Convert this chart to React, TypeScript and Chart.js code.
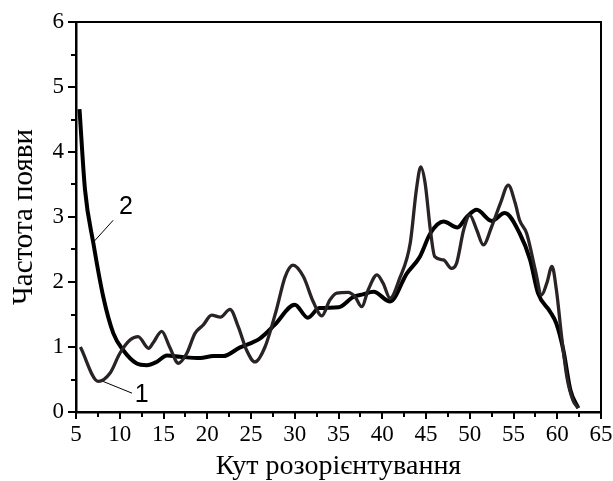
import React, { useEffect, useRef } from "react";
import { Chart, registerables } from "chart.js";

Chart.register(...registerables);

const curve1X = [5.5, 7.55, 8.9, 10.0, 11.2, 12.1, 13.3, 13.8, 14.8, 15.7, 16.7, 17.65, 18.6, 19.55, 20.5, 21.5, 22.6, 23.55, 24.5, 25.45, 26.6, 27.9, 28.9, 29.8, 31.0, 32.1, 33.1, 34.0, 34.8, 36.1, 36.9, 37.65, 38.4, 39.4, 40.1, 40.9, 42.0, 43.2, 43.9, 44.4, 44.9, 45.5, 46.0, 47.0, 47.9, 48.5, 49.3, 50.0, 50.8, 51.55, 52.5, 53.5, 54.4, 55.2, 55.7, 56.5, 57.5, 58.2, 58.8, 59.4, 59.9, 60.5, 61.1, 61.8, 62.4];
const curve1Y = [1.0, 0.47, 0.6, 0.9, 1.11, 1.16, 0.98, 1.06, 1.24, 1.0, 0.75, 0.9, 1.21, 1.34, 1.49, 1.46, 1.58, 1.31, 0.95, 0.77, 1.0, 1.57, 2.08, 2.26, 2.08, 1.7, 1.48, 1.72, 1.83, 1.84, 1.77, 1.62, 1.88, 2.11, 1.98, 1.75, 2.06, 2.6, 3.42, 3.77, 3.52, 2.8, 2.39, 2.34, 2.21, 2.29, 2.8, 3.03, 2.8, 2.57, 2.85, 3.21, 3.49, 3.21, 2.95, 2.75, 2.18, 1.8, 1.98, 2.24, 1.88, 1.16, 0.54, 0.18, 0.06];

const curve2X = [5.4, 6.03, 6.98, 8.12, 9.27, 10.4, 11.9, 13.1, 14.2, 15.4, 16.9, 19.2, 20.7, 21.8, 23.7, 26.0, 27.7, 30.0, 31.5, 32.8, 35.0, 36.7, 37.8, 39.0, 40.9, 42.8, 44.3, 45.5, 47.0, 48.6, 49.65, 50.8, 52.5, 54.0, 55.7, 56.9, 57.8, 59.2, 59.9, 60.7, 61.5, 62.4];
const curve2Y = [4.66, 3.42, 2.6, 1.77, 1.21, 0.95, 0.75, 0.72, 0.77, 0.87, 0.85, 0.83, 0.86, 0.86, 0.99, 1.13, 1.34, 1.65, 1.45, 1.6, 1.61, 1.77, 1.81, 1.85, 1.70, 2.13, 2.39, 2.75, 2.93, 2.84, 3.0, 3.11, 2.94, 3.06, 2.75, 2.34, 1.83, 1.54, 1.36, 0.95, 0.34, 0.06];

const xTitle = "Кут розорієнтування";
const yTitle = "Частота появи";

// annotation labels: [text, labelX, labelY, lineFromX, lineFromY, lineToX, lineToY]
const annotations: [string, number, number, number, number, number, number][] = [
  ["2", 10.7, 3.15, 6.9, 2.6, 9.25, 2.95],
  ["1", 12.5, 0.26, 8.1, 0.47, 11.4, 0.29],
];

const serif = "'Liberation Serif', 'Times New Roman', serif";

const framePlugin = {
  id: "frame",
  afterDraw(chart: any) {
    const { ctx, chartArea: a, scales } = chart;
    const xs = scales.x;
    const ys = scales.y;
    ctx.save();
    ctx.strokeStyle = "#000";
    ctx.lineWidth = 2;
    ctx.beginPath();
    ctx.moveTo(a.left, a.top);
    ctx.lineTo(a.right, a.top);
    ctx.lineTo(a.right, a.bottom);
    ctx.stroke();
    for (let v = 5; v <= 65.001; v += 2.5) {
      const major = Math.abs(v / 5 - Math.round(v / 5)) < 1e-6;
      const px = Math.round(xs.getPixelForValue(v));
      ctx.beginPath();
      ctx.moveTo(px, a.bottom);
      ctx.lineTo(px, a.bottom + (major ? 7 : 5));
      ctx.stroke();
    }
    for (let v = 0; v <= 6.001; v += 0.5) {
      const major = Math.abs(v - Math.round(v)) < 1e-6;
      const py = Math.round(ys.getPixelForValue(v));
      ctx.beginPath();
      ctx.moveTo(a.left, py);
      ctx.lineTo(a.left - (major ? 8 : 5), py);
      ctx.stroke();
    }
    ctx.lineWidth = 1;
    ctx.fillStyle = "#000";
    ctx.font = "25px 'Liberation Sans', Arial, sans-serif";
    ctx.textAlign = "center";
    ctx.textBaseline = "middle";
    for (const [t, lx, ly, x1, y1, x2, y2] of annotations) {
      ctx.beginPath();
      ctx.moveTo(xs.getPixelForValue(x1), ys.getPixelForValue(y1));
      ctx.lineTo(xs.getPixelForValue(x2), ys.getPixelForValue(y2));
      ctx.stroke();
      ctx.fillText(t, xs.getPixelForValue(lx), ys.getPixelForValue(ly));
    }
    ctx.restore();
  },
};

export default function App() {
  const ref = useRef<HTMLCanvasElement>(null);
  useEffect(() => {
    if (!ref.current) return;
    const chart = new Chart(ref.current, {
      type: "line",
      data: {
        datasets: [
          {
            label: "1",
            data: curve1X.map((x, i) => ({ x, y: curve1Y[i] })),
            borderColor: "#2a2324",
            borderWidth: 3.3,
            pointRadius: 0,
            cubicInterpolationMode: "monotone",
            fill: false,
          },
          {
            label: "2",
            data: curve2X.map((x, i) => ({ x, y: curve2Y[i] })),
            borderColor: "#000000",
            borderWidth: 4,
            pointRadius: 0,
            cubicInterpolationMode: "monotone",
            fill: false,
          },
        ],
      },
      options: {
        animation: false,
        responsive: true,
        maintainAspectRatio: false,
        layout: { padding: { left: 0, top: 22, right: 12, bottom: 0 } },
        plugins: { legend: { display: false }, tooltip: { enabled: false } },
        scales: {
          x: {
            type: "linear",
            min: 5,
            max: 65,
            ticks: { stepSize: 5, color: "#000", font: { family: serif, size: 23 }, padding: 9, maxRotation: 0 },
            grid: { display: true, drawOnChartArea: false, drawTicks: false },
            border: { display: true, color: "#000", width: 2.5 },
            title: { display: true, text: xTitle, color: "#000", font: { family: serif, size: 28, lineHeight: 1 }, padding: 0 },
            afterFit: (s: any) => { s.height = 69; s.paddingLeft = 0; s.paddingRight = 0; },
          },
          y: {
            min: 0,
            max: 6,
            ticks: { stepSize: 1, color: "#000", font: { family: serif, size: 23 }, padding: 12 },
            grid: { display: true, drawOnChartArea: false, drawTicks: false },
            border: { display: true, color: "#000", width: 2.5 },
            title: { display: true, text: yTitle, color: "#000", font: { family: serif, size: 29, lineHeight: 1 }, padding: 10 },
            afterFit: (s: any) => { s.width = 76; s.paddingTop = 0; s.paddingBottom = 0; },
          },
        },
      },
      plugins: [framePlugin],
    });
    return () => chart.destroy();
  }, []);
  return (
    <div style={{ position: "absolute", left: 0, top: 0, width: 613, height: 481, background: "#fff" }}>
      <canvas ref={ref} />
    </div>
  );
}
